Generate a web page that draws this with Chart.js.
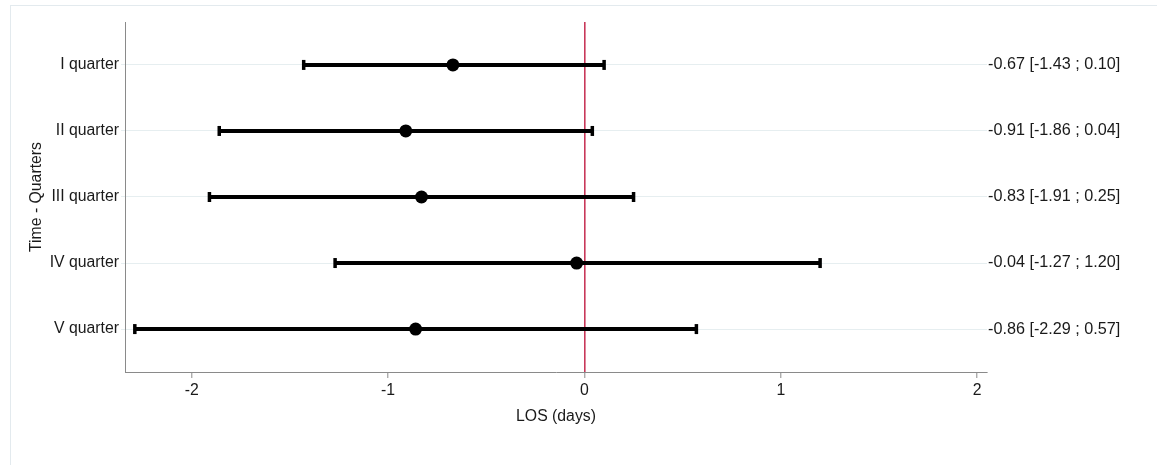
<!DOCTYPE html>
<html>
<head>
<meta charset="utf-8">
<title>LOS by quarter</title>
<script src="https://cdn.jsdelivr.net/npm/chart.js@4.4.1/dist/chart.umd.min.js"></script>
<style>
  html, body { margin: 0; padding: 0; background: #fff; }
  body { width: 1157px; height: 465px; position: relative; overflow: hidden; }
  /* light outer frame, like the exported graph region */
  .frame {
    position: absolute; left: 10px; top: 5px; width: 1200px; height: 500px;
    border-left: 1px solid #e3eaee; border-top: 1px solid #e3eaee;
  }
  #forest { position: absolute; left: 0; top: 0; }
</style>
</head>
<body>
<div class="frame"></div>
<canvas id="forest" width="1157" height="465"></canvas>
<script>
// forest plot: LOS difference (days) per quarter, with 95% CI

const quarters = ["I quarter", "II quarter", "III quarter", "IV quarter", "V quarter"];
const estimates = [-0.67, -0.91, -0.83, -0.04, -0.86];
const lowerCI = [-1.43, -1.86, -1.91, -1.27, -2.29];
const upperCI = [0.10, 0.04, 0.25, 1.20, 0.57];
const xTicks = [-2, -1, 0, 1, 2];

const FONT = { family: "Arial, 'Liberation Sans', sans-serif", size: 15.8 };
const RIGHT_FONT = { family: "Arial, 'Liberation Sans', sans-serif", size: 16.2 };
const TEXT = "#1a1a1a";
const AXIS_GREY = "#8a8a8a";
const GRID = "#e6eef0";
const REF_RED = "#c8385a";

const rowTicks = () => quarters.map((_, i) => ({ value: i + 1 }));
const ciText = (i) =>
  `${estimates[i].toFixed(2)} [${lowerCI[i].toFixed(2)} ; ${upperCI[i].toFixed(2)}]`;

// one line dataset per interval, caps drawn as rotated "line" points
const ciSets = quarters.map((q, i) => ({
  label: q,
  data: [{ x: lowerCI[i], y: i + 1 }, { x: upperCI[i], y: i + 1 }],
  showLine: true,
  borderColor: "#000",
  borderWidth: 4,
  borderCapStyle: "butt",
  pointStyle: "line",
  pointRotation: 90,
  pointRadius: 5,
  pointBorderWidth: 3.5,
  pointBorderColor: "#000",
  yAxisID: "y",
}));

const pointSet = {
  label: "estimate",
  data: estimates.map((v, i) => ({ x: v, y: i + 1 })),
  pointRadius: 6.5,
  pointBackgroundColor: "#000",
  pointBorderColor: "#000",
  pointBorderWidth: 0,
  showLine: false,
  yAxisID: "y",
};

new Chart(document.getElementById("forest"), {
  type: "scatter",
  data: { datasets: [...ciSets, pointSet] },
  options: {
    responsive: false,
    devicePixelRatio: 1,
    animation: false,
    layout: { padding: { top: 22, left: 0, right: 0, bottom: 0 } },
    plugins: { legend: { display: false }, tooltip: { enabled: false } },
    scales: {
      x: {
        type: "linear",
        min: -2.34,
        max: 2.05,
        z: 1,
        afterBuildTicks: (axis) => { axis.ticks = xTicks.map((v) => ({ value: v })); },
        afterFit: (axis) => { axis.height = 93; },
        border: { color: AXIS_GREY, width: 1 },
        grid: {
          color: (ctx) => (ctx.tick && ctx.tick.value === 0 ? REF_RED : "rgba(0,0,0,0)"),
          lineWidth: 1.6,
          tickColor: AXIS_GREY,
          tickWidth: 1,
          tickLength: 6,
        },
        ticks: { color: TEXT, font: FONT, padding: 3, maxRotation: 0 },
        title: {
          display: true,
          text: "LOS (days)",
          color: TEXT,
          font: FONT,
          padding: { top: 0, bottom: 39 },
        },
      },
      y: {
        type: "linear",
        position: "left",
        reverse: true,
        min: 0.35,
        max: 5.65,
        afterBuildTicks: (axis) => { axis.ticks = rowTicks(); },
        afterFit: (axis) => { axis.width = 125; },
        border: { color: AXIS_GREY, width: 1 },
        grid: { color: GRID, lineWidth: 1, tickColor: GRID, tickLength: 4 },
        ticks: {
          color: TEXT,
          font: FONT,
          padding: 2,
          callback: (v) => quarters[v - 1] || "",
        },
        title: {
          display: true,
          text: "Time - Quarters",
          color: TEXT,
          font: FONT,
          padding: { top: 27, bottom: 0 },
        },
      },
      yRight: {
        type: "linear",
        position: "right",
        reverse: true,
        min: 0.35,
        max: 5.65,
        afterBuildTicks: (axis) => { axis.ticks = rowTicks(); },
        afterFit: (axis) => { axis.width = 170; },
        border: { display: false },
        grid: { display: false, drawTicks: false },
        ticks: {
          color: TEXT,
          font: RIGHT_FONT,
          padding: 1,
          callback: (v) => (quarters[v - 1] ? ciText(v - 1) : ""),
        },
      },
    },
  },
});
</script>
</body>
</html>
